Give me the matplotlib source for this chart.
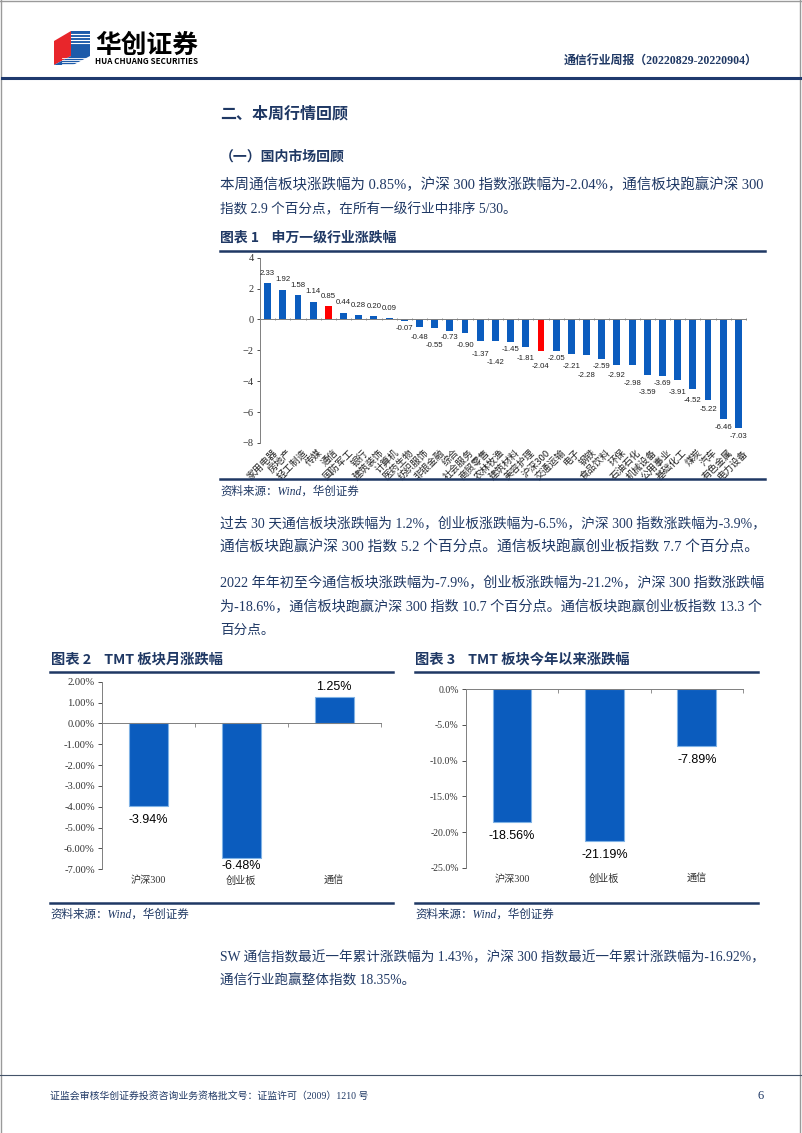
import matplotlib
matplotlib.use("Agg")
import matplotlib.pyplot as plt
import matplotlib.transforms as mtransforms
from matplotlib.patches import Polygon
from matplotlib.lines import Line2D

plt.rcParams['font.family'] = ['Noto Sans CJK SC', 'DejaVu Sans']

# ---- data ----
industries = ['家用电器', '房地产', '轻工制造', '传媒', '通信', '国防军工', '银行', '建筑装饰',
              '计算机', '医药生物', '纺织服饰', '非银金融', '综合', '社会服务', '商贸零售', '农林牧渔',
              '建筑材料', '美容护理', '沪深300', '交通运输', '电子', '钢铁', '食品饮料', '环保',
              '石油石化', '机械设备', '公用事业', '基础化工', '煤炭', '汽车', '有色金属', '电力设备']
weekly_chg = [2.33, 1.92, 1.58, 1.14, 0.85, 0.44, 0.28, 0.20,
              0.09, -0.07, -0.48, -0.55, -0.73, -0.90, -1.37, -1.42,
              -1.45, -1.81, -2.04, -2.05, -2.21, -2.28, -2.59, -2.92,
              -2.98, -3.59, -3.69, -3.91, -4.52, -5.22, -6.46, -7.03]
highlight = ['通信', '沪深300']

tmt_names = ['沪深300', '创业板', '通信']
month_chg = [-3.94, -6.48, 1.25]
ytd_chg = [-18.56, -21.19, -7.89]

W, H = 802, 1133
NAVY = '#1F3864'
BLUE = '#0B5CBE'
RED = '#FF0000'
SERIF = ['Liberation Serif', 'Noto Sans CJK SC']
NUM = ['Liberation Sans', 'DejaVu Sans']

fig = plt.figure(figsize=(W / 100, H / 100), dpi=100)
renderer = fig.canvas.get_renderer()


def fx(x):
    return x / W


def fy(y):
    return 1 - y / H


def txt(x, y, s, **kw):
    kw.setdefault('va', 'center')
    kw.setdefault('color', NAVY)
    return fig.text(fx(x), fy(y), s, **kw)


def body(y, s, justify=True, x=220, size=9.8, width=545):
    t = txt(x, y, s, fontsize=size, family=SERIF)
    if justify:
        w = t.get_window_extent(renderer).width
        t.set_fontsize(min(size * width / w, size * 1.08))
    return t


def hline(x0, x1, y, color=NAVY, lw=1.5):
    fig.add_artist(Line2D([fx(x0), fx(x1)], [fy(y), fy(y)], color=color, lw=lw,
                          transform=fig.transFigure))


def add_ax(left, top, right, bottom):
    return fig.add_axes([fx(left), fy(bottom), (right - left) / W, (bottom - top) / H])


# page border
fig.add_artist(Line2D([fx(1), fx(1)], [0, 1], color='#9a9a9a', lw=1, transform=fig.transFigure))
fig.add_artist(Line2D([fx(800), fx(800)], [0, 1], color='#9a9a9a', lw=1, transform=fig.transFigure))
fig.add_artist(Line2D([0, 1], [fy(1), fy(1)], color='#9a9a9a', lw=1, transform=fig.transFigure))


# ---- header / logo ----
def poly(pts, color):
    fig.add_artist(Polygon([(fx(a), fy(b)) for a, b in pts], closed=True, color=color,
                           transform=fig.transFigure, lw=0))

poly([(54, 41), (71, 31), (71, 56), (54, 65)], '#E8262B')
poly([(71, 31), (90, 31), (90, 56), (71, 56)], '#1D5BAA')
poly([(54, 65), (71, 56), (90, 56), (73, 65)], '#1D5BAA')
for k in range(4):
    yy = 34 + k * 3
    fig.add_artist(Line2D([fx(71), fx(90)], [fy(yy), fy(yy)], color='white', lw=0.8,
                          transform=fig.transFigure))
    yy2 = 58 + k * 2
    fig.add_artist(Line2D([fx(62), fx(88)], [fy(yy2), fy(yy2)], color='white', lw=0.6,
                          transform=fig.transFigure))

txt(95, 45, '华创证券', fontsize=18.5, fontweight='bold', color='black')
txt(95, 61, 'HUA CHUANG SECURITIES', fontsize=5.8, fontweight='bold', color='black')
txt(758, 61, '通信行业周报（20220829-20220904）', fontsize=8.6, fontweight='bold', ha='right',
    family=SERIF)
hline(2, 800, 77.5, color='#1F3A6E', lw=2.2)

# ---- text blocks ----
txt(220, 113, '二、本周行情回顾', fontsize=11.5, fontweight='bold')
txt(220, 157, '（一）国内市场回顾', fontsize=10, fontweight='bold')
body(185, '本周通信板块涨跌幅为 0.85%，沪深 300 指数涨跌幅为-2.04%，通信板块跑赢沪深 300')
body(210, '指数 2.9 个百分点，在所有一级行业中排序 5/30。', justify=False)
txt(220, 238, '图表 1    申万一级行业涨跌幅', fontsize=10, fontweight='bold')
hline(220, 765, 250.5, lw=1.8)
hline(220, 765, 479, lw=1.8)
txt(220, 492, '资料来源：Wind，华创证券', fontsize=8.3, style='italic', family=SERIF)

body(523, '过去 30 天通信板块涨跌幅为 1.2%，创业板涨跌幅为-6.5%，沪深 300 指数涨跌幅为-3.9%，')
body(547, '通信板块跑赢沪深 300 指数 5.2 个百分点。通信板块跑赢创业板指数 7.7 个百分点。')
body(583, '2022 年年初至今通信板块涨跌幅为-7.9%，创业板涨跌幅为-21.2%，沪深 300 指数涨跌幅')
body(607, '为-18.6%，通信板块跑赢沪深 300 指数 10.7 个百分点。通信板块跑赢创业板指数 13.3 个')
body(630, '百分点。', justify=False)

txt(51, 660, '图表 2    TMT 板块月涨跌幅', fontsize=10.3, fontweight='bold')
txt(415, 660, '图表 3    TMT 板块今年以来涨跌幅', fontsize=10.3, fontweight='bold')
hline(50, 393, 671.5, lw=1.8)
hline(415, 758, 671.5, lw=1.8)
hline(50, 393, 903, lw=1.8)
hline(415, 758, 903, lw=1.8)
txt(50, 915, '资料来源：Wind，华创证券', fontsize=8.3, style='italic', family=SERIF)
txt(415, 915, '资料来源：Wind，华创证券', fontsize=8.3, style='italic', family=SERIF)

body(958, 'SW 通信指数最近一年累计涨跌幅为 1.43%，沪深 300 指数最近一年累计涨跌幅为-16.92%，')
body(981, '通信行业跑赢整体指数 18.35%。', justify=False)

# footer
hline(0, 801, 1075, color='#44546A', lw=0.8)
txt(50, 1096, '证监会审核华创证券投资咨询业务资格批文号：证监许可（2009）1210 号', fontsize=7.1,
    family=SERIF)
txt(757, 1096, '6', fontsize=9, family=SERIF)

# ---- chart 1 ----
top1, bot1 = 257.7, 443
ax1 = add_ax(260, top1, 746, bot1)
x1 = list(range(len(industries)))
colors1 = [RED if n in highlight else BLUE for n in industries]
ax1.bar(x1, weekly_chg, width=0.45, color=colors1)
ax1.set_xlim(-0.5, len(industries) - 0.5)
ax1.set_ylim(-8, 4)
ax1.set_yticks([4, 2, 0, -2, -4, -6, -8])
ax1.tick_params(axis='y', labelsize=7.5, length=2.5, width=0.6, pad=2, colors='#333333')
for lab in ax1.get_yticklabels():
    lab.set_family(SERIF)
for s in ['top', 'right']:
    ax1.spines[s].set_visible(False)
ax1.spines['left'].set_color('#7f7f7f')
ax1.spines['left'].set_linewidth(0.7)
ax1.spines['bottom'].set_position(('data', 0))
ax1.spines['bottom'].set_color('#7f7f7f')
ax1.spines['bottom'].set_linewidth(0.7)
ax1.set_xticks([i + 0.5 for i in x1])
ax1.tick_params(axis='x', labelbottom=False, length=2, width=0.6, direction='inout',
                colors='#7f7f7f')
ax1.patch.set_alpha(0)
trans1 = mtransforms.blended_transform_factory(ax1.transData, ax1.transAxes)
px_per_unit = (bot1 - top1) / 12.0
SEP = 8.5
prev_y, prev_shift = None, False
for i, (name, v) in enumerate(zip(industries, weekly_chg)):
    ax1.text(i + 0.3, -0.025, name, transform=trans1, rotation=45, ha='right', va='top',
             rotation_mode='anchor', fontsize=6.9, color='#222222')
    if v >= 0:
        off = 10
        prev_y, prev_shift = None, False
    else:
        # keep a negative label clear of its left neighbour (pixels below the zero line)
        d = -v * px_per_unit + 8
        y = d
        if prev_y is not None and abs(d - prev_y) < SEP:
            if prev_shift and prev_y - SEP >= d - 3:
                y = prev_y - SEP
            else:
                y = max(d, prev_y + SEP)
        prev_y, prev_shift = y, abs(y - d) > 0.01
        off = -(y + v * px_per_unit)
    ax1.annotate(f'{v:.2f}', (i, v), xytext=(0, off * 0.72), textcoords='offset points',
                 ha='center', va='center', fontsize=5.6, color='#222222', family=NUM)


# ---- charts 2 and 3 ----
def tmt_chart(ax, vals, ylim, step, fmt, label_axes_y, ticksize, height_px):
    xs = list(range(len(tmt_names)))
    ax.bar(xs, vals, width=0.42, color=BLUE, edgecolor='#7FB2E5', linewidth=0.8)
    ax.set_xlim(-0.5, len(tmt_names) - 0.5)
    ax.set_ylim(*ylim)
    ticks = []
    t = ylim[1]
    while t >= ylim[0] - 1e-9:
        ticks.append(t)
        t -= step
    ax.set_yticks(ticks)
    ax.set_yticklabels([fmt.format(t) for t in ticks], family=SERIF)
    ax.tick_params(axis='y', labelsize=ticksize, length=3, width=0.6, pad=2, colors='#333333')
    for s in ['top', 'right']:
        ax.spines[s].set_visible(False)
    ax.spines['left'].set_color('#7f7f7f')
    ax.spines['left'].set_linewidth(0.7)
    ax.spines['bottom'].set_position(('data', 0))
    ax.spines['bottom'].set_color('#7f7f7f')
    ax.spines['bottom'].set_linewidth(0.7)
    ax.set_xticks([i + 0.5 for i in xs])
    ax.tick_params(axis='x', labelbottom=False, length=3, width=0.6, colors='#7f7f7f')
    ax.patch.set_alpha(0)
    trans = mtransforms.blended_transform_factory(ax.transData, ax.transAxes)
    ppu = height_px / (ylim[1] - ylim[0])
    for i, (name, v) in enumerate(zip(tmt_names, vals)):
        ax.text(i, label_axes_y, name, transform=trans, ha='center', va='center',
                fontsize=7.3, color='#333333', family=SERIF)
        if v >= 0:
            off = 10
        else:
            room = (v - ylim[0]) * ppu - 3
            off = -min(14.5, room)
        ax.annotate(f'{v:.2f}%', (i, v), xytext=(0, off * 0.72), textcoords='offset points',
                    ha='center', va='center', fontsize=9, color='black', family=NUM)


ax2 = add_ax(101.7, 681.7, 380.7, 869.3)
tmt_chart(ax2, month_chg, (-7, 2), 1, '{:.2f}%', -0.06, 7.6, 869.3 - 681.7)
ax3 = add_ax(465.7, 689.3, 743, 867.7)
tmt_chart(ax3, ytd_chg, (-25, 0), 5, '{:.1f}%', -0.065, 7.0, 867.7 - 689.3)

fig.savefig('out.png', dpi=100, facecolor='white')
